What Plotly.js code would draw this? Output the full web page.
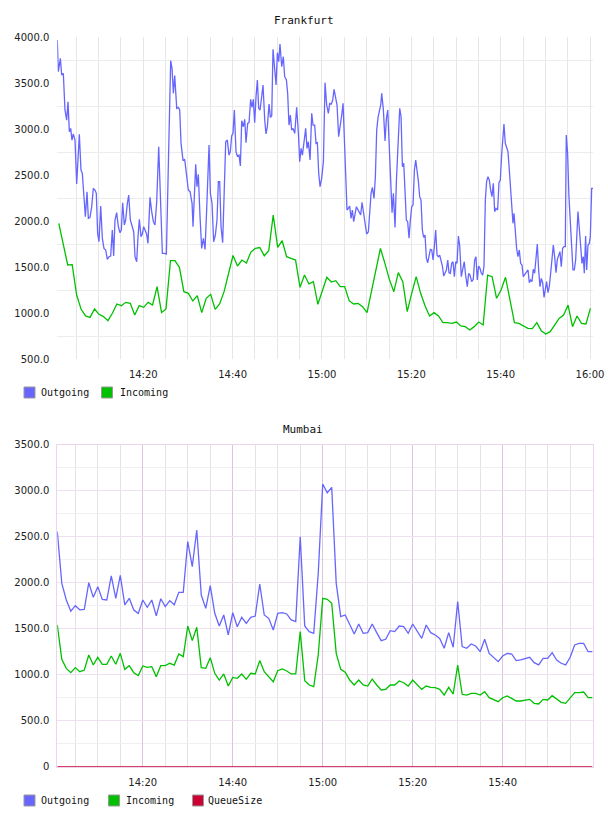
<!DOCTYPE html>
<html><head><meta charset="utf-8">
<script src="https://cdn.plot.ly/plotly-3.0.1.min.js"></script>
<style>html,body{margin:0;padding:0;background:#fff}#chart{width:608px;height:816px}</style>
</head><body><div id="chart"></div>
<script>
const DAY = '2012-01-01';

// ---------- Frankfurt ----------
const fraOutStart = '14:00:45';           // seconds below are offsets from this time
const fraOutSec = [
0,14,41,59,81,103,126,144,162,180,197,215,238,260,296,318,336,359,377,399,
417,439,462,484,506,524,542,560,583,605,627,650,672,695,717,739,757,775,797,820,
842,860,878,900,918,941,959,981,1004,1026,1044,1066,1084,1102,1124,1142,1160,1183,1200,1218,
1245,1268,1290,1312,1335,1362,1384,1411,1438,1465,1492,1523,1541,1559,1577,1604,1626,1644,1662,1689,
1711,1738,1760,1783,1810,
1823,1841,1859,1876,1894,1917,1939,1962,1984,2006,2038,2056,2078,2100,2123,2145,2163,2181,2199,2221,
2244,2262,2284,2306,2324,2342,2360,2378,2400,2418,2441,2459,2477,2499,2517,2535,2557,2575,2597,2615,
2633,2651,2669,2687,2705,2723,2745,2763,2786,2803,2821,2844,2862,2880,2897,2920,2938,2956,2974,2991,
3014,3036,3054,3077,3094,3112,3130,3148,3166,3189,3215,3238,3256,3274,3292,3314,3336,3354,3372,3395,
3417,3435,3457,3475,3493,3511,3529,3551,3574,3596,
3618,3641,3658,3681,3699,3717,3739,3757,3779,3802,3820,3838,3855,3873,3891,3909,3927,3945,3963,3981,
3999,4017,4035,4057,4075,4093,4111,4133,4155,4178,4196,4214,4232,4254,4272,4290,4308,4326,4344,4357,
4379,4402,4420,4438,4460,4478,4496,4514,4536,4554,4581,4599,4617,4635,4653,4670,4688,4706,4724,4742,
4760,4778,4796,4814,4832,4850,4867,4885,4903,4921,4939,4957,4975,4993,5011,5029,5047,5064,5082,5100,
5118,5136,5154,5172,5190,5208,5226,5244,5261,5279,5297,5315,5333,5351,5369,5387,5405,
5426,5449,5466,5484,5507,5525,5543,5565,5587,5605,5623,5641,5659,5677,5695,5713,5731,5749,5766,5784,
5802,5820,5838,5856,5874,5892,5914,5932,5950,5968,5986,5999,6017,6035,6053,6071,6089,6107,6120,6134,
6151,6169,6187,6205,6223,6241,6259,6281,6304,6322,6340,6357,6375,6393,6411,6429,6447,6465,6483,6501,
6519,6537,6554,6572,6590,6608,6626,6644,6662,6680,6698,6716,6733,6751,6769,6787,6805,6823,6836,6854,
6872,6890,6908,6926,6944,6962,6975,6993,7011,7029,7047,7065,7078,7096,7110,7128,7145,7159,7177,7195
];
const fraOutgoing = [
3970,3626,3771,3590,3608,3210,3100,3300,2974,3010,2883,2949,2883,2405,2945,2557,2521,2195,2050,2322,
2032,2043,2159,2358,2340,2304,1869,1778,2166,1815,1706,1688,1586,1615,1623,1905,1623,2014,2094,1941,
1876,1905,2202,1959,2014,2195,2286,2014,1959,1887,1615,1561,1833,2021,1833,1862,1941,1905,1862,1760,
2260,2105,1996,1959,2213,2811,2268,1651,1651,1644,2630,3746,3662,3391,3583,3228,3238,3210,2847,2659,
2673,2521,2340,2322,2195,
1941,2376,2619,2376,2510,2050,1706,1815,1695,2123,2829,2304,2195,1778,1851,2014,2431,2431,1941,1767,
2340,2865,2883,2720,2757,2927,2956,3210,2757,2710,2720,2601,3094,3028,3108,2854,3065,3072,3325,3238,
3325,3072,3354,3536,3228,3210,3354,3481,3101,2949,3028,3275,3130,3144,3869,3608,3481,3833,3735,3927,
3680,3789,3572,3536,3391,3046,3155,2992,3010,2956,3238,2956,2648,2793,2720,2865,3010,2793,2865,2666,
3173,3046,3046,2847,2854,2521,2376,2467,2648,3507,
3264,3173,3282,3275,3318,3434,3354,3264,2920,3028,3155,3282,2847,2485,2123,2141,2166,2032,2123,1996,
2105,2159,2130,2094,2068,2206,2105,1996,1862,1887,2123,2304,2369,2249,2485,2992,3130,3210,3264,3391,
3217,2873,3119,3210,2775,2304,2094,2304,1934,2431,2992,3228,3137,2594,2630,2347,2014,1996,1815,2014,
2159,2177,2557,2666,2557,2431,2268,2231,1905,1826,1851,1597,1550,1651,1695,1688,1579,1724,1905,1633,
1615,1633,1579,1514,1405,1434,1470,1579,1441,1434,1543,1561,1398,1561,1543,1840,1731,
1398,1507,1561,1416,1290,1435,1416,1344,1369,1579,1615,1362,1514,1489,1435,1416,1514,2232,2431,2485,
2449,2340,2268,2413,2105,2141,2123,2420,2449,2721,2902,3058,2848,2811,2757,2558,2358,2177,1978,2087,
1869,1706,1615,1688,1543,1525,1398,1427,1442,1471,1333,1362,1344,1478,1435,1579,1753,1471,1290,1380,
1333,1174,1290,1344,1224,1290,1435,1579,1742,1615,1442,1586,1623,1670,1507,1706,1724,1724,2938,2739,
2268,1942,1652,1471,1471,1579,1797,2105,1924,1688,1543,1615,1435,1840,1471,1742,1760,1833,2358,2358
];
const fraInStart = '14:01:05';            // one sample per minute
const fraIncoming = [
1978,1757,1525,1529,1199,1043,971,956,1047,989,964,920,1000,1101,1083,1119,1108,982,1083,1065,
1119,1090,1290,1007,1047,1572,1572,1500,1235,1217,1134,1192,1007,1163,1206,1043,1101,1235,1435,1628,
1514,1579,1546,1666,1705,1715,1625,1681,2068,1717,1789,1615,1597,1579,1282,1416,1319,1344,1098,1246,
1391,1340,1355,1290,1290,1137,1101,1108,1072,1007,1235,1464,1706,1543,1369,1235,1442,1344,1018,1217,
1398,1217,1080,971,1007,971,898,898,891,905,862,855,819,855,905,873,1416,1398,1163,1253,
1391,1145,898,891,862,837,833,898,811,775,800,873,945,982,1090,855,971,891,884,1054
];
const fraYTicks = [500,1000,1500,2000,2500,3000,3500,4000];

// ---------- Mumbai ----------
const mumStart = '14:01:00';              // one sample per minute
const mumOutgoing = [
2555,1993,1812,1690,1750,1705,1711,2000,1841,1957,1819,1812,2073,1830,2080,1758,1830,1703,1667,1812,
1732,1812,1640,1826,1740,1805,1760,1895,1895,2446,2174,2573,1866,1721,1968,1667,1529,1649,1432,1674,
1522,1624,1558,1624,1638,1986,1649,1613,1486,1667,1674,1660,1595,1577,2500,1529,1468,1450,2100,3073,
2978,3036,1993,1631,1649,1540,1442,1551,1450,1457,1551,1457,1370,1385,1479,1468,1529,1522,1450,1551,
1479,1395,1540,1457,1432,1395,1287,1457,1298,1794,1305,1287,1334,1312,1250,1385,1232,1189,1142,1203,
1232,1225,1153,1160,1174,1189,1131,1106,1178,1178,1240,1160,1124,1106,1189,1323,1341,1341,1250,1250
];
const mumIncoming = [
1540,1167,1069,1022,1077,1033,1051,1214,1105,1189,1113,1113,1203,1113,1232,1058,1098,1022,990,1095,
1080,1087,979,1098,1098,1124,1105,1225,1196,1529,1370,1515,1077,1069,1185,1015,942,1008,877,971,
961,1008,950,1015,1008,1153,1033,979,924,1044,1062,1040,1008,1008,1468,935,888,870,1214,1830,
1819,1776,1232,1058,1026,942,888,942,888,877,953,888,834,841,888,888,932,913,877,942,
888,841,877,863,859,841,779,863,790,1105,787,779,797,797,779,816,750,732,707,750,
769,743,714,714,725,732,689,682,732,725,772,732,700,689,743,805,805,812,750,750
];
const mumQueueSize = [
0,0,0,0,0,0,0,0,0,0,0,0,0,0,0,0,0,0,0,0,0,0,0,0,0,0,0,0,0,0,
0,0,0,0,0,0,0,0,0,0,0,0,0,0,0,0,0,0,0,0,0,0,0,0,0,0,0,0,0,0,
0,0,0,0,0,0,0,0,0,0,0,0,0,0,0,0,0,0,0,0,0,0,0,0,0,0,0,0,0,0,
0,0,0,0,0,0,0,0,0,0,0,0,0,0,0,0,0,0,0,0,0,0,0,0,0,0,0,0,0,0
];
const mumYTicks = [0,500,1000,1500,2000,2500,3000,3500];
const mumYLabels = ['0','500.0','1000.0','1500.0','2000.0','2500.0','3000.0','3500.0'];

// ---------- helpers ----------
const pad = n => String(n).padStart(2,'0');
const toSec = hms => { const [h,m,s] = hms.split(':').map(Number); return h*3600+m*60+s; };
const stamp = sec => DAY+' '+pad(Math.floor(sec/3600))+':'+pad(Math.floor(sec%3600/60))+':'+pad(sec%60);
const perMinute = (start, arr) => arr.map((_,i) => stamp(toSec(start)+60*i));

const W = 608, H = 816;
const fx = px => px/W, fy = py => 1-py/H;

const BLUE = '#6666ff', GREEN = '#00c000', RED = '#cc0033';
const tickFont = {family:'DejaVu Sans, Verdana, sans-serif', size:10, color:'#222'};
const monoFont = {family:'DejaVu Sans Mono, monospace', size:10, color:'#111'};

const traces = [
  {x: fraOutSec.map(s => stamp(toSec(fraOutStart)+s)), y: fraOutgoing, name:'Outgoing', type:'scatter', mode:'lines',
   line:{color:BLUE, width:1.3}, xaxis:'x', yaxis:'y'},
  {x: perMinute(fraInStart, fraIncoming), y: fraIncoming, name:'Incoming', type:'scatter', mode:'lines',
   line:{color:GREEN, width:1.3}, xaxis:'x', yaxis:'y'},
  {x: perMinute(mumStart, mumOutgoing), y: mumOutgoing, name:'Outgoing', type:'scatter', mode:'lines',
   line:{color:BLUE, width:1.3}, xaxis:'x2', yaxis:'y2'},
  {x: perMinute(mumStart, mumIncoming), y: mumIncoming, name:'Incoming', type:'scatter', mode:'lines',
   line:{color:GREEN, width:1.3}, xaxis:'x2', yaxis:'y2'},
  {x: perMinute(mumStart, mumQueueSize), y: mumQueueSize, name:'QueueSize', type:'scatter', mode:'lines',
   line:{color:RED, width:1.3}, xaxis:'x2', yaxis:'y2', cliponaxis:false}
];

const timeAxisBase = {
  type:'date', tickformat:'%H:%M', tick0: DAY+' 14:00:00', dtick: 20*60*1000,
  showgrid:true, zeroline:false, ticks:'outside', ticklen:6, tickcolor:'rgba(0,0,0,0)',
  tickfont: tickFont, fixedrange:true
};

const layout = {
  width: W, height: H, margin:{l:0,r:0,t:0,b:0},
  paper_bgcolor:'#fff', plot_bgcolor:'#fff', showlegend:false,
  xaxis: Object.assign({}, timeAxisBase, {
    domain:[fx(57.3), fx(593.3)], anchor:'y',
    range:[stamp(toSec('14:00:45')), stamp(toSec('16:00:44'))],
    gridcolor:'#e6e6e6', gridwidth:1,
    minor:{tickmode:'linear', tick0: DAY+' 14:00:00', dtick:5*60*1000, showgrid:true, gridcolor:'#e6e6e6', gridwidth:1, ticks:''},
    showline:false
  }),
  yaxis: {
    domain:[fy(359.3), fy(37.3)], anchor:'x', range:[500,4000],
    tickmode:'array', tickvals: fraYTicks, ticktext: fraYTicks.map(v => v.toFixed(1)),
    showgrid:false, zeroline:false, showline:false,
    minor:{tickmode:'linear', tick0:750, dtick:500, showgrid:true, gridcolor:'#ececec', gridwidth:1.2, ticks:''},
    ticks:'outside', ticklen:5, tickcolor:'rgba(0,0,0,0)', tickfont: tickFont, fixedrange:true
  },
  xaxis2: Object.assign({}, timeAxisBase, {
    domain:[fx(57.3), fx(592.5)], anchor:'y2',
    range:[stamp(toSec('14:01:00')), stamp(toSec('15:59:58'))],
    gridcolor:'#dcc4dc', gridwidth:1,
    minor:{tickmode:'linear', tick0: DAY+' 14:00:00', dtick:5*60*1000, showgrid:true, gridcolor:'#e8e0e8', gridwidth:1, ticks:''},
    showline:true, mirror:true, linecolor:'#ecd4ec', linewidth:1, layer:'below traces'
  }),
  yaxis2: {
    domain:[fy(766.7), fy(444.7)], anchor:'x2', range:[0,3500],
    tickmode:'array', tickvals: mumYTicks, ticktext: mumYLabels,
    showgrid:true, gridcolor:'#efe0ef', gridwidth:1.2, zeroline:false,
    minor:{tickmode:'linear', tick0:250, dtick:500, showgrid:true, gridcolor:'#f0f0f0', gridwidth:1.2, ticks:''},
    showline:true, mirror:true, linecolor:'#ecd4ec', linewidth:1, layer:'below traces',
    ticks:'outside', ticklen:5, tickcolor:'rgba(0,0,0,0)', tickfont: tickFont, fixedrange:true
  },
  annotations: [
    {text:'Frankfurt', xref:'paper', yref:'paper', x:fx(304), y:fy(20), xanchor:'center', yanchor:'middle', showarrow:false,
     font:{family:'DejaVu Sans Mono, monospace', size:11, color:'#111'}},
    {text:'Mumbai', xref:'paper', yref:'paper', x:fx(303), y:fy(429), xanchor:'center', yanchor:'middle', showarrow:false,
     font:{family:'DejaVu Sans Mono, monospace', size:11, color:'#111'}},
    {text:'Outgoing', xref:'paper', yref:'paper', x:fx(38.5), y:fy(392.5), xanchor:'left', yanchor:'middle', showarrow:false, font:monoFont},
    {text:'Incoming', xref:'paper', yref:'paper', x:fx(117.5), y:fy(392.5), xanchor:'left', yanchor:'middle', showarrow:false, font:monoFont},
    {text:'Outgoing', xref:'paper', yref:'paper', x:fx(38.5), y:fy(800.5), xanchor:'left', yanchor:'middle', showarrow:false, font:monoFont},
    {text:'Incoming', xref:'paper', yref:'paper', x:fx(123.5), y:fy(800.5), xanchor:'left', yanchor:'middle', showarrow:false, font:monoFont},
    {text:'QueueSize', xref:'paper', yref:'paper', x:fx(206), y:fy(800.5), xanchor:'left', yanchor:'middle', showarrow:false, font:monoFont}
  ],
  shapes: [
    {type:'rect', xref:'paper', yref:'paper', x0:fx(24), x1:fx(35), y0:fy(398), y1:fy(387), fillcolor:BLUE, line:{color:'#999', width:1}},
    {type:'rect', xref:'paper', yref:'paper', x0:fx(101.5), x1:fx(112.5), y0:fy(398), y1:fy(387), fillcolor:GREEN, line:{color:'#999', width:1}},
    {type:'rect', xref:'paper', yref:'paper', x0:fx(24), x1:fx(35), y0:fy(806), y1:fy(795), fillcolor:BLUE, line:{color:'#999', width:1}},
    {type:'rect', xref:'paper', yref:'paper', x0:fx(108.5), x1:fx(119.5), y0:fy(806), y1:fy(795), fillcolor:GREEN, line:{color:'#999', width:1}},
    {type:'rect', xref:'paper', yref:'paper', x0:fx(192.5), x1:fx(203.5), y0:fy(806), y1:fy(795), fillcolor:RED, line:{color:'#999', width:1}}
  ]
};

Plotly.newPlot('chart', traces, layout, {displayModeBar:false, staticPlot:true});
</script>
</body></html>
